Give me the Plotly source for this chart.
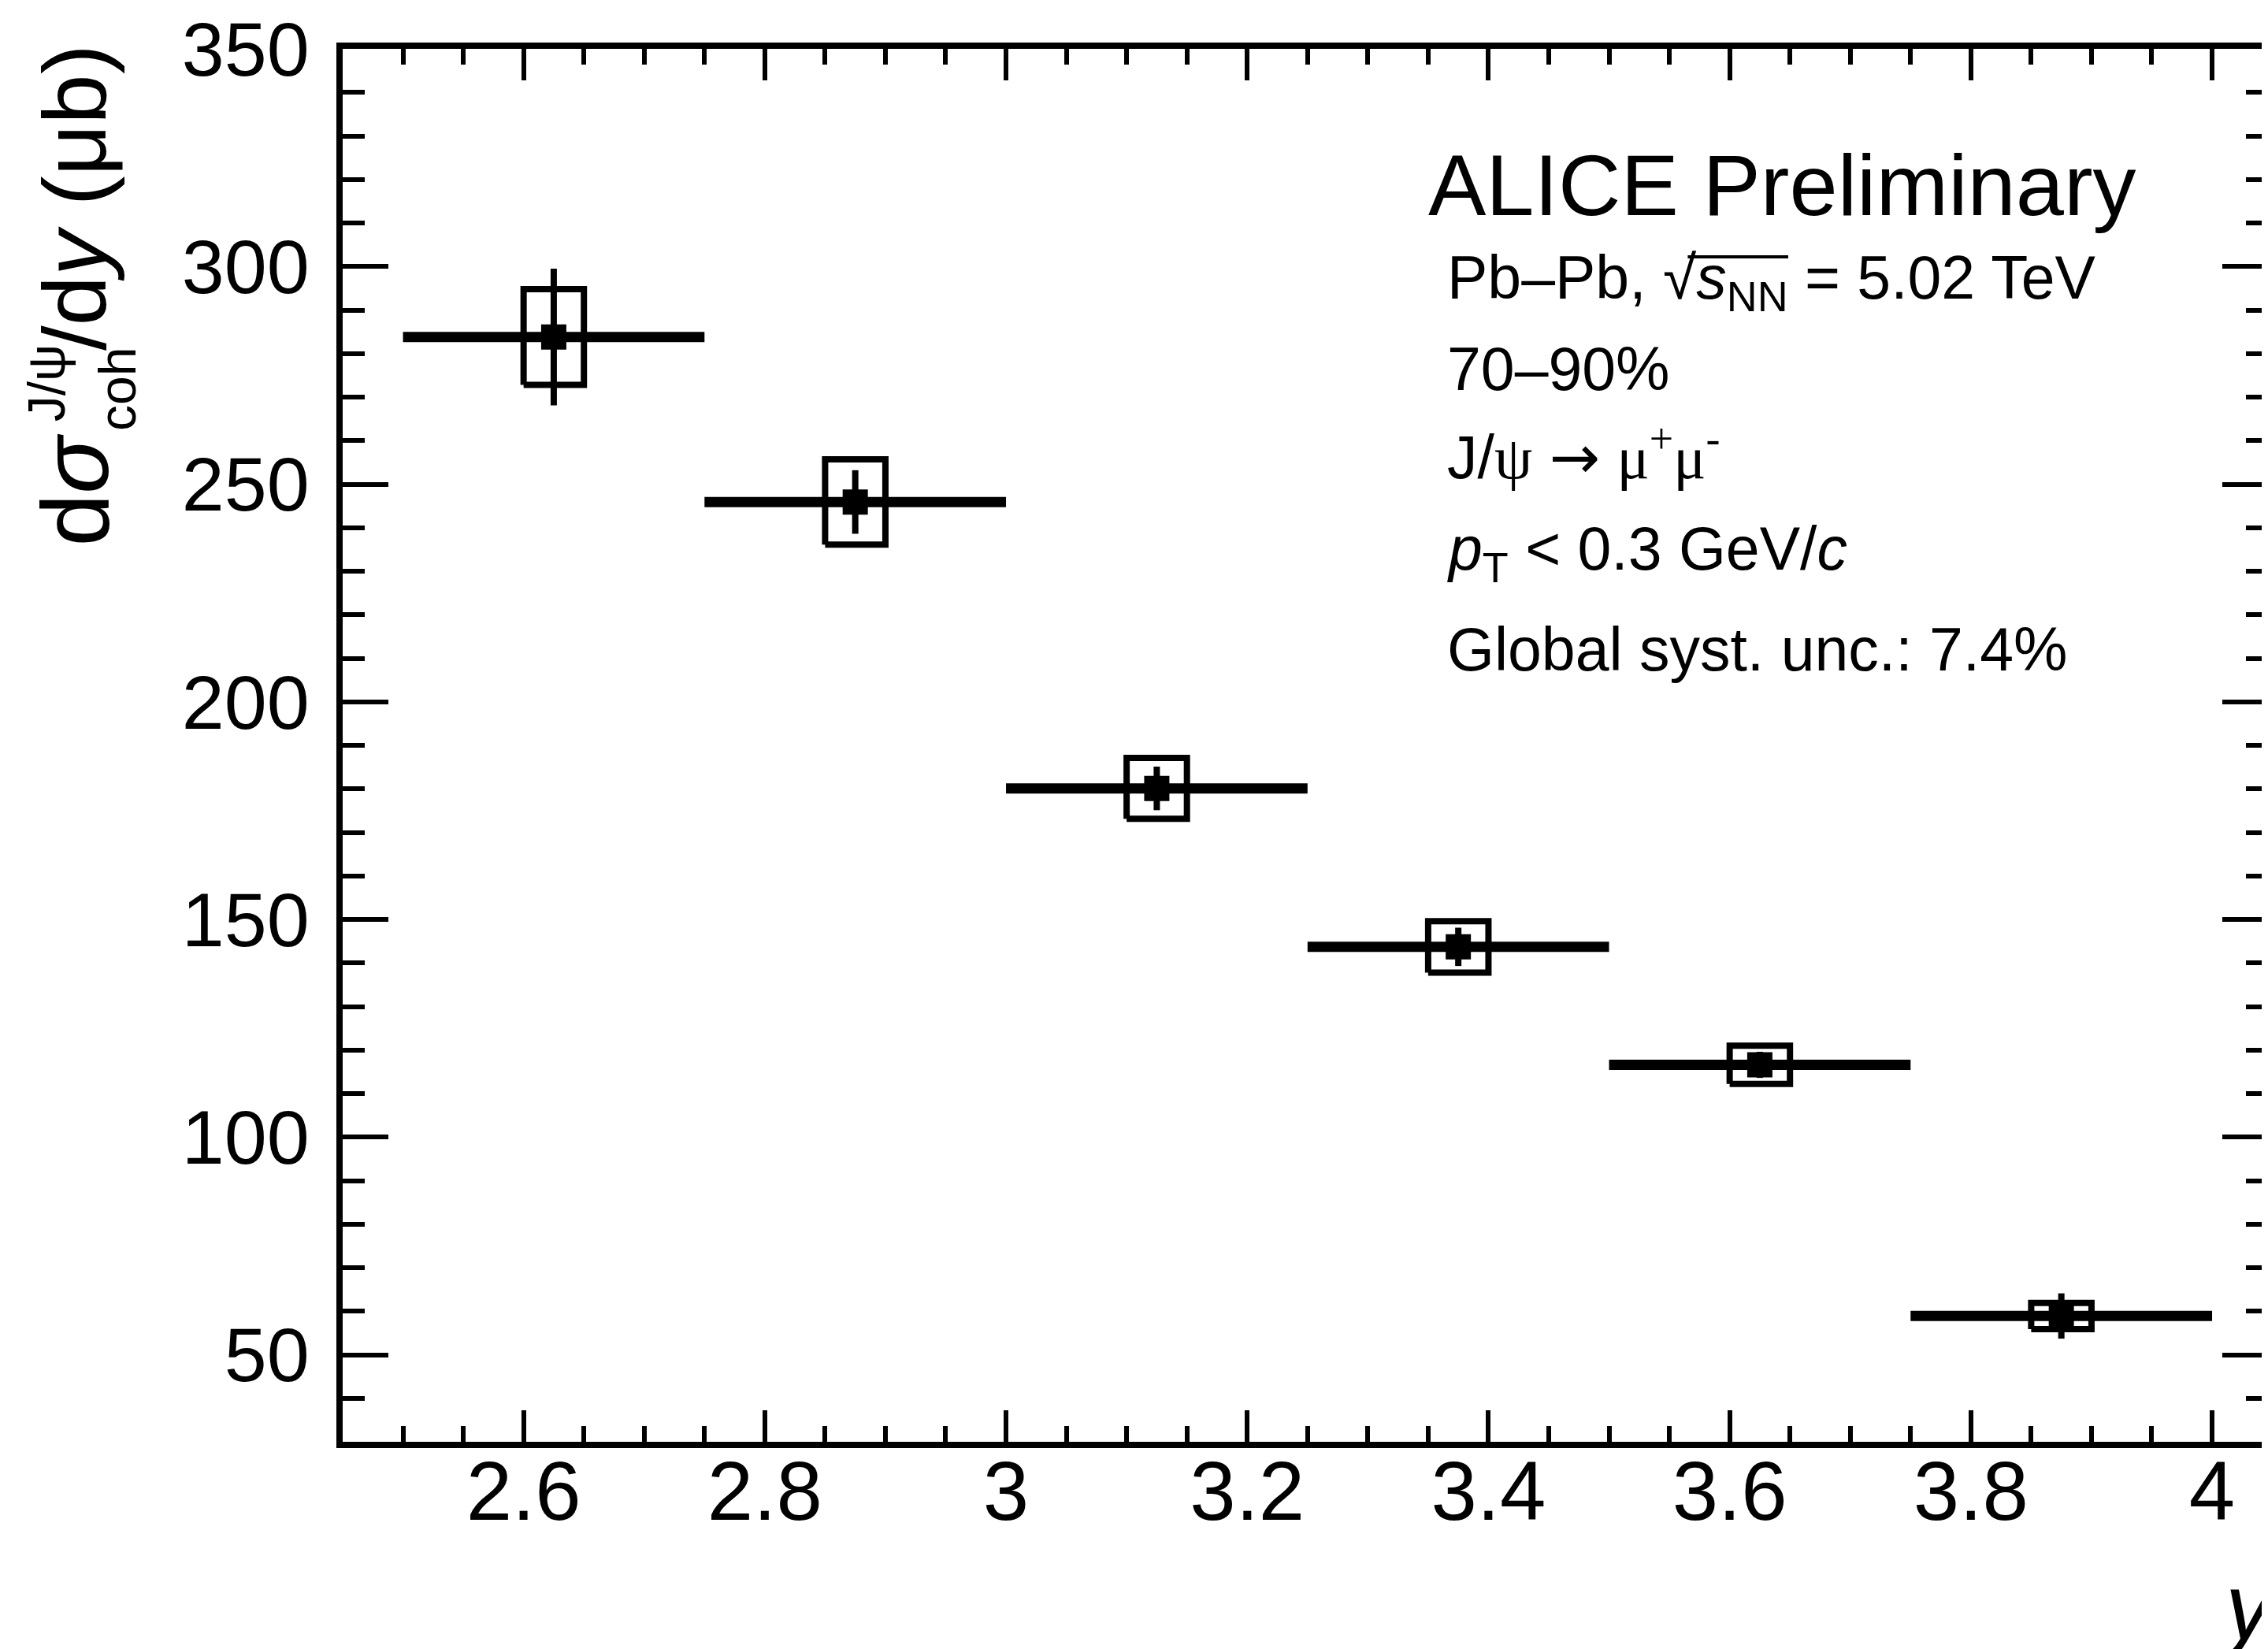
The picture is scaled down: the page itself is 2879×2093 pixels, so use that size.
import plotly.graph_objects as go

# ---------------- data ----------------
y_centers = [2.625, 2.875, 3.125, 3.375, 3.625, 3.875]
bin_half_width = [0.125, 0.125, 0.125, 0.125, 0.125, 0.125]
cross_section = [283.8, 245.9, 180.1, 143.7, 116.6, 58.9]
stat_err = [15.7, 7.3, 5.0, 4.4, 3.0, 5.2]
syst_err = [11.0, 9.8, 7.0, 5.9, 4.4, 3.0]
box_half_width = 0.025

x_tick_vals = [2.6, 2.8, 3.0, 3.2, 3.4, 3.6, 3.8, 4.0]
x_tick_text = ["2.6", "2.8", "3", "3.2", "3.4", "3.6", "3.8", "4"]
y_tick_vals = [50, 100, 150, 200, 250, 300, 350]
y_tick_text = ["50", "100", "150", "200", "250", "300", "350"]

W, H = 2879, 2093
ML, MT, MB = 427, 47, 271
PW, PH = W - ML, H - MT - MB
PX_PER_UNIT = 1536.0
FONT = "Liberation Sans, Arial, Helvetica, sans-serif"
SERIF = "Liberation Serif, Times New Roman, serif"


def px(X):
    return (X - ML) / PW


def py(Y):
    return (H - MB - Y) / PH


# systematic boxes as closed polygons
bx, by = [], []
for xc, yc, s in zip(y_centers, cross_section, syst_err):
    x0, x1 = xc - box_half_width, xc + box_half_width
    y0, y1 = yc - s, yc + s
    bx += [x0, x1, x1, x0, x0, None]
    by += [y0, y0, y1, y1, y0, None]

fig = go.Figure()
fig.add_trace(go.Scatter(
    x=bx, y=by, mode="lines",
    line=dict(color="black", width=8),
    hoverinfo="skip", showlegend=False,
))
fig.add_trace(go.Scatter(
    x=y_centers, y=cross_section, mode="markers",
    marker=dict(symbol="square", size=32, color="black"),
    error_x=dict(type="data", array=bin_half_width, thickness=13, width=0, color="black"),
    error_y=dict(type="data", array=stat_err, thickness=8, width=0, color="black"),
    showlegend=False,
))

annotations = []


def rot(text, X, Y, size):
    annotations.append(dict(text=text, x=px(X), y=py(Y), xref="paper", yref="paper",
                            xanchor="center", yanchor="bottom", textangle=-90, showarrow=False,
                            font=dict(family=FONT, size=size, color="black")))


# y-axis title pieces (rotated, read bottom to top)
rot("d<i>σ</i>", 86, 683, 120)
rot("J/ψ", 50, 524, 66)
rot("coh", 140, 536, 66)
rot("/d<i>y</i> (μb)", 86, 434, 114)

# x-axis title
annotations.append(dict(text="<i>y</i>", x=px(2892), y=py(2032), xref="paper", yref="paper",
                        xanchor="right", yanchor="middle", showarrow=False,
                        font=dict(family=FONT, size=118, color="black")))
# text block
annotations.append(dict(text="ALICE Preliminary", x=px(1808), y=py(220), xref="paper", yref="paper",
                        xanchor="left", yanchor="middle", showarrow=False,
                        font=dict(family=FONT, size=110, color="black")))
jpsi_line = ("J/<span style='font-family:Liberation Serif'>ψ</span> "
             "<span style='font-family:DejaVu Sans'>→</span> "
             "<span style='font-family:Liberation Serif'>μ<sup>+</sup>μ<sup>-</sup></span>")
lines = [
    ("Pb–Pb, √<i>s</i><sub>NN</sub> = 5.02 TeV", 344),
    ("70–90%", 455),
    (jpsi_line, 563),
    ("<i>p</i><sub>T</sub> &lt; 0.3 GeV/<i>c</i>", 689),
    ("Global syst. unc.: 7.4%", 812),
]
for txt, yy in lines:
    annotations.append(dict(text=txt, x=px(1832), y=py(yy), xref="paper", yref="paper",
                            xanchor="left", yanchor="middle", showarrow=False,
                            font=dict(family=FONT, size=77, color="black")))

# overline of the square root
shapes = [dict(type="line", xref="paper", yref="paper",
               x0=px(2140), x1=px(2268), y0=py(312), y1=py(312),
               line=dict(color="black", width=4))]

fig.update_layout(
    width=W, height=H,
    margin=dict(l=ML, r=0, t=MT, b=MB, pad=0),
    paper_bgcolor="white", plot_bgcolor="white",
    showlegend=False,
    annotations=annotations,
    shapes=shapes,
    font=dict(family=FONT, color="black"),
)
fig.update_xaxes(
    range=[2.45, 2.45 + PW / PX_PER_UNIT],
    tickmode="array", tickvals=x_tick_vals, ticktext=x_tick_text,
    ticks="inside", ticklen=40, tickwidth=6, tickcolor="black",
    minor=dict(dtick=0.05, tick0=2.5, ticks="inside", ticklen=20, tickwidth=6, tickcolor="black"),
    showline=True, linewidth=8, linecolor="black", mirror="allticks",
    showgrid=False, zeroline=False,
    tickfont=dict(family=FONT, size=105, color="black"),
    ticklabelstandoff=-35,
    ticklabeloverflow="allow",
)
fig.update_yaxes(
    range=[30, 350],
    tickmode="array", tickvals=y_tick_vals, ticktext=y_tick_text,
    ticks="inside", ticklen=58, tickwidth=6, tickcolor="black",
    minor=dict(dtick=10, tick0=0, ticks="inside", ticklen=28, tickwidth=6, tickcolor="black"),
    showline=True, linewidth=8, linecolor="black", mirror="allticks",
    showgrid=False, zeroline=False,
    tickfont=dict(family=FONT, size=97, color="black"),
    ticklabelstandoff=15,
    ticklabeloverflow="allow",
)

fig.write_html("out.html")
